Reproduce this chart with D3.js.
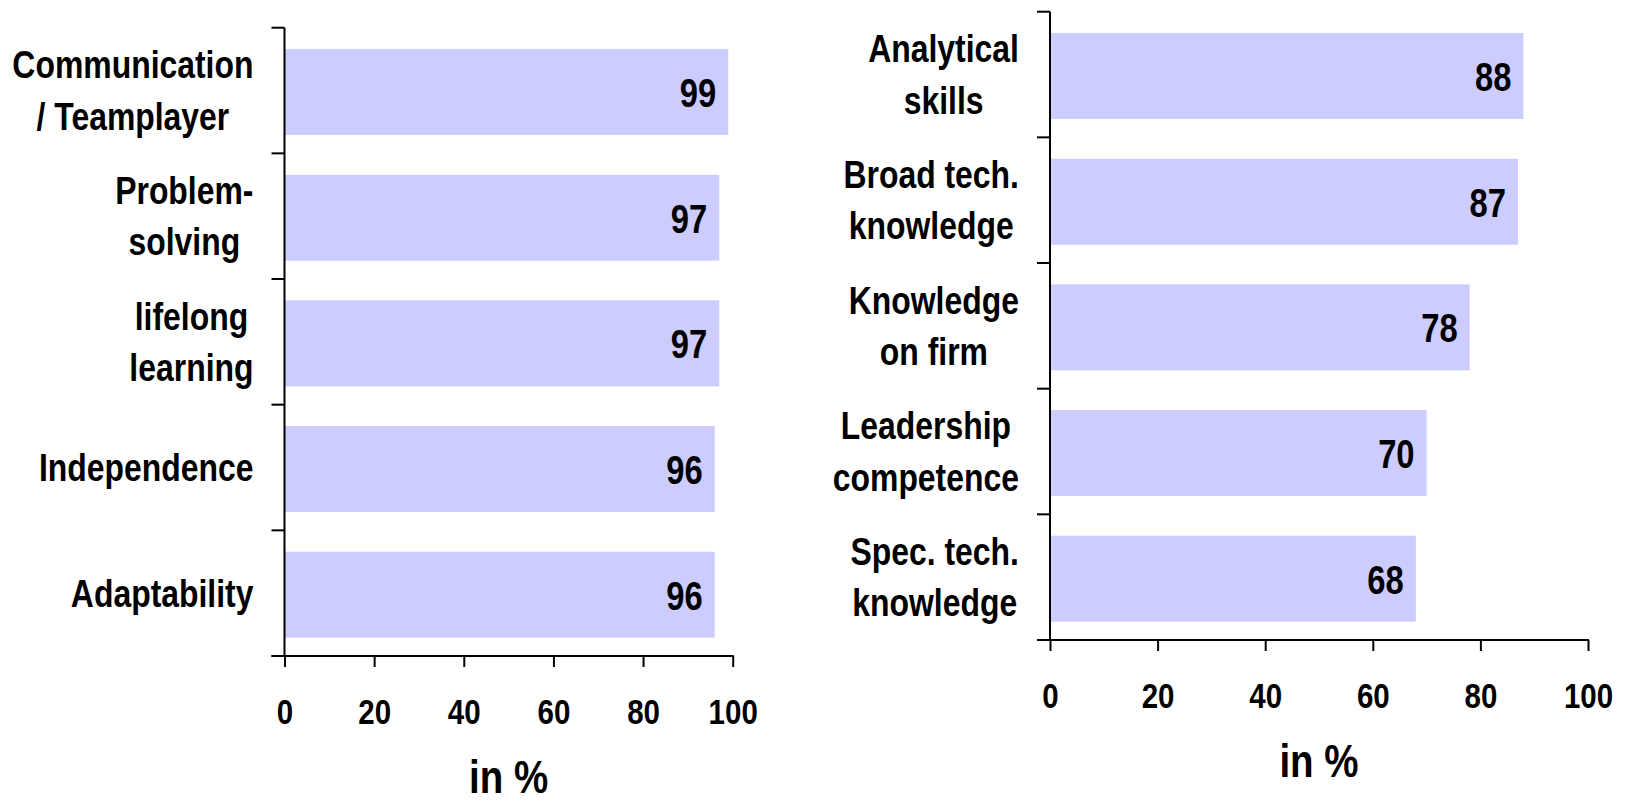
<!DOCTYPE html>
<html><head><meta charset="utf-8">
<script src="https://cdn.jsdelivr.net/npm/d3@7"></script>
<style>
html,body{margin:0;padding:0;background:#fff;}
svg{display:block;}
text{font-family:"Liberation Sans",Arial,sans-serif;font-weight:bold;fill:#000;}
</style></head>
<body>
<script>
const leftCategories = [["Communication","/ Teamplayer"],["Problem-","solving"],["lifelong","learning"],["Independence"],["Adaptability"]];
const leftValues = [99, 97, 97, 96, 96];
const rightCategories = [["Analytical","skills"],["Broad tech.","knowledge"],["Knowledge","on firm"],["Leadership","competence"],["Spec. tech.","knowledge"]];
const rightValues = [88, 87, 78, 70, 68];
const tickValues = [0, 20, 40, 60, 80, 100];
const axisTitle = "in %";

const W = 1628, H = 804;
const NARROW = 0.82;
const LABEL_NARROW = 0.84;
const svg = d3.select("body").append("svg").attr("width", W).attr("height", H);

function drawChart(cfg){
  const {cats, vals, x0, x1, yTop, yBottom} = cfg;
  const g = svg.append("g");
  const x = d3.scaleLinear().domain([0,100]).range([x0,x1]);
  const y = d3.scaleBand().domain(d3.range(cats.length)).range([yTop,yBottom]).padding(0);
  const bw = y.bandwidth();
  // bars
  g.selectAll("rect.bar").data(vals).join("rect")
    .attr("x", x(0)).attr("y", (d,i)=>y(i)+bw*0.17)
    .attr("width", d=>x(d)-x(0)).attr("height", bw*0.684)
    .attr("fill", "#ccccff");
  // value labels
  g.selectAll("text.val").data(vals).join("text")
    .attr("transform",(d,i)=>`translate(${x(d)-12},${y(i)+bw*0.17+bw*0.342+15}) scale(${NARROW},1)`)
    .attr("text-anchor","end").style("font-size","40px").text(d=>d);
  // y axis line
  g.append("line").attr("x1",x0).attr("x2",x0).attr("y1",yTop).attr("y2",yBottom)
    .attr("stroke","#000").attr("stroke-width",2);
  // y ticks at band boundaries
  const bounds = d3.range(cats.length+1).map(i=> i<cats.length ? y(i) : yBottom);
  g.selectAll("line.yt").data(bounds).join("line")
    .attr("x1",x0-13).attr("x2",x0).attr("y1",d=>d).attr("y2",d=>d)
    .attr("stroke","#000").attr("stroke-width",2);
  // category labels
  cats.forEach((lines,i)=>{
    const cy = y(i)+bw/2;
    const lh = 51.5;
    const t = g.append("text").attr("text-anchor","middle").style("font-size","38px");
    lines.forEach((ln,j)=>{
      t.append("tspan").attr("x",0).attr("y", cy + (j-(lines.length-1)/2)*lh + 13.5).text(ln);
    });
    const bb = t.node().getBBox();
    const rightEdge = x0 - 31;
    t.attr("transform", `translate(${rightEdge - bb.width*LABEL_NARROW/2},0) scale(${LABEL_NARROW},1)`);
  });
  // x axis
  const ax = d3.axisBottom(x).tickValues(tickValues).tickSize(11).tickFormat(d3.format("d"));
  const ag = g.append("g").attr("transform",`translate(0,${yBottom})`).call(ax);
  ag.select(".domain").remove();
  ag.attr("font-family",null).attr("font-size",null);
  ag.selectAll(".tick line").attr("stroke","#000").attr("stroke-width",2);
  ag.selectAll(".tick text").attr("y",68).attr("dy",null)
    .attr("transform",`scale(${NARROW},1)`)
    .style("font-size","36px").attr("fill","#000");
  g.append("line").attr("x1",x0-13).attr("x2",x1+1).attr("y1",yBottom).attr("y2",yBottom)
    .attr("stroke","#000").attr("stroke-width",2);
  // title
  g.append("text").attr("transform",`translate(${(x0+x1)/2},${yBottom+137}) scale(${NARROW},1)`)
    .attr("text-anchor","middle").style("font-size","47px").text(axisTitle);
}

drawChart({cats:leftCategories, vals:leftValues, x0:284.5, x1:732.7, yTop:27.7, yBottom:656});
drawChart({cats:rightCategories, vals:rightValues, x0:1050, x1:1588, yTop:11.7, yBottom:640});
</script>
</body></html>
